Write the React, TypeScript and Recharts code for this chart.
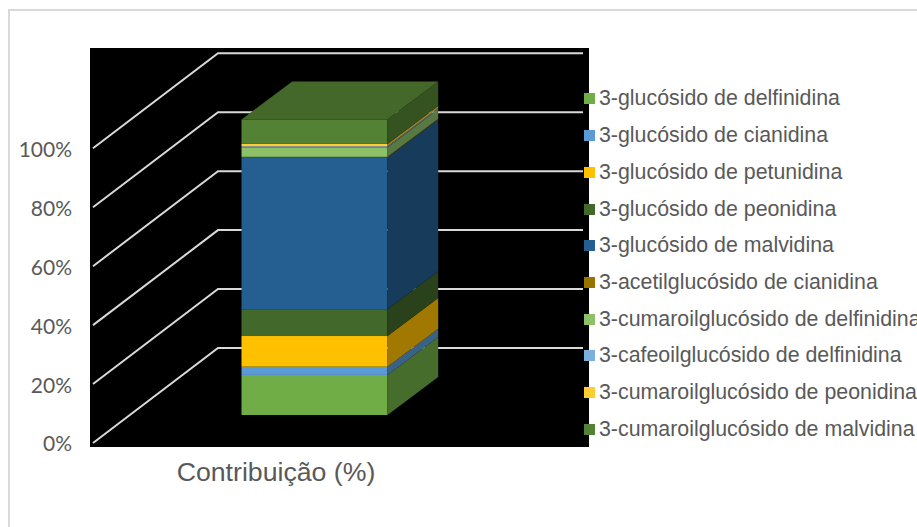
import React from "react";
import { Bar, BarChart, CartesianGrid, Legend, XAxis, YAxis } from "recharts";

// Anthocyanin share of the sample, stacked from the bottom up (%).
const categories = ["Contribuição (%)"];
const seriesNames = [
  "3-glucósido de delfinidina",
  "3-glucósido de cianidina",
  "3-glucósido de petunidina",
  "3-glucósido de peonidina",
  "3-glucósido de malvidina",
  "3-acetilglucósido de cianidina",
  "3-cumaroilglucósido de delfinidina",
  "3-cafeoilglucósido de delfinidina",
  "3-cumaroilglucósido de peonidina",
  "3-cumaroilglucósido de malvidina",
];
const seriesValues = [13.6, 2.8, 10.4, 9.1, 51.5, 0.2, 3.2, 0.4, 0.8, 8.3];
const seriesColors = [
  "#70AD47", "#5B9BD5", "#FFC000", "#43682B", "#255E91",
  "#997300", "#8CC168", "#7CAFDD", "#FFCD33", "#548235",
];
const yTicks = [0, 20, 40, 60, 80, 100];

const chartData = categories.map((name) => {
  const row: Record<string, string | number> = { name };
  seriesNames.forEach((s, i) => {
    row[s] = seriesValues[i];
  });
  return row;
});

// Pseudo-3D projection of the plot box and of the column inside it.
const PLOT_TOP = 54;
const WALL_DX = 125;
const WALL_DY = 95;
const WALL_RIGHT = 583;
const COLUMN_SHIFT_X = 35.5;
const COLUMN_SHIFT_Y = 28;
const COLUMN_DEPTH_X = 50.7;
const COLUMN_DEPTH_Y = 38;

const TEXT = "#595959";
const GRID = "#D9D9D9";

function shade(hex: string, k: number) {
  const n = parseInt(hex.slice(1), 16);
  const c = [(n >> 16) & 255, (n >> 8) & 255, n & 255].map((v) => Math.round(v * k));
  return `rgb(${c[0]},${c[1]},${c[2]})`;
}

// A floor line running back to the wall, then along it. The plot's own top edge carries no tick.
function gridLine(p: any) {
  const { x1, y1, key } = p;
  if (y1 <= PLOT_TOP + 1) return <g key={key} />;
  const d = `M${x1},${y1}L${x1 + WALL_DX},${y1 - WALL_DY}L${WALL_RIGHT},${y1 - WALL_DY}`;
  return <path key={key} d={d} fill="none" stroke={GRID} strokeWidth={2} />;
}

function columnSegment(isTop: boolean) {
  return function Segment(p: any) {
    const x = p.x + COLUMN_SHIFT_X;
    const y = p.y - COLUMN_SHIFT_Y;
    const { width: w, height: h, fill } = p;
    const dx = COLUMN_DEPTH_X;
    const dy = COLUMN_DEPTH_Y;
    return (
      <g>
        <rect x={x} y={y} width={w} height={h} fill={fill} />
        <path
          d={`M${x + w},${y}L${x + w + dx},${y - dy}L${x + w + dx},${y - dy + h}L${x + w},${y + h}Z`}
          fill={shade(fill, 0.63)}
        />
        {isTop && (
          <path
            d={`M${x},${y}L${x + dx},${y - dy}L${x + w + dx},${y - dy}L${x + w},${y}Z`}
            fill={shade(fill, 0.8)}
          />
        )}
      </g>
    );
  };
}

function LegendList({ payload }: any) {
  return (
    <div style={{ fontFamily: "'Liberation Sans', Arial, sans-serif", fontSize: 21.35, color: TEXT }}>
      {(payload || []).map((e: any) => (
        <div key={e.value} style={{ height: 36.7, display: "flex", alignItems: "center", whiteSpace: "nowrap" }}>
          <span style={{ width: 11, height: 11, background: e.color, marginRight: 4, flex: "none" }} />
          {e.value}
        </div>
      ))}
    </div>
  );
}

export default function App() {
  return (
    <div style={{ position: "absolute", left: 0, top: 0, width: 917, height: 527, overflow: "hidden", background: "#fff" }}>
      <div style={{ position: "absolute", left: 8, top: 9, width: 909, height: 518, borderLeft: `2px solid ${GRID}`, borderTop: `2px solid ${GRID}`, boxSizing: "border-box" }} />
      <div style={{ position: "absolute", left: 90, top: 48, width: 499, height: 399, background: "#000" }} />
      <div style={{ position: "absolute", left: 0, top: 0 }}>
        <BarChart
          width={917}
          height={527}
          data={chartData}
          margin={{ top: PLOT_TOP, right: 453, bottom: 0, left: 0 }}
        >
          <CartesianGrid horizontal={gridLine} vertical={false} />
          <XAxis
            dataKey="name"
            height={84}
            axisLine={false}
            tickLine={false}
            tickMargin={13}
            tick={{ fill: TEXT, fontSize: 26.7, fontFamily: "'Liberation Sans', Arial, sans-serif", dx: -2.5 }}
          />
          <YAxis
            width={93}
            domain={[0, 132]}
            ticks={yTicks}
            allowDataOverflow
            axisLine={false}
            tickLine={false}
            tickMargin={15}
            tickFormatter={(v: number) => `${v}%`}
            tick={{ fill: TEXT, fontSize: 21, fontFamily: "Lato, sans-serif", dy: 1 }}
          />
          <Legend
            layout="vertical"
            align="center"
            verticalAlign="middle"
            itemSorter={null as any}
            wrapperStyle={{ left: 584, top: 80.65, width: 340 }}
            content={(props: any) => <LegendList {...props} />}
          />
          {seriesNames.map((s, i) => (
            <Bar
              key={s}
              dataKey={s}
              stackId="total"
              fill={seriesColors[i]}
              barSize={146}
              isAnimationActive={false}
              shape={columnSegment(i === seriesNames.length - 1)}
            />
          ))}
        </BarChart>
      </div>
    </div>
  );
}
